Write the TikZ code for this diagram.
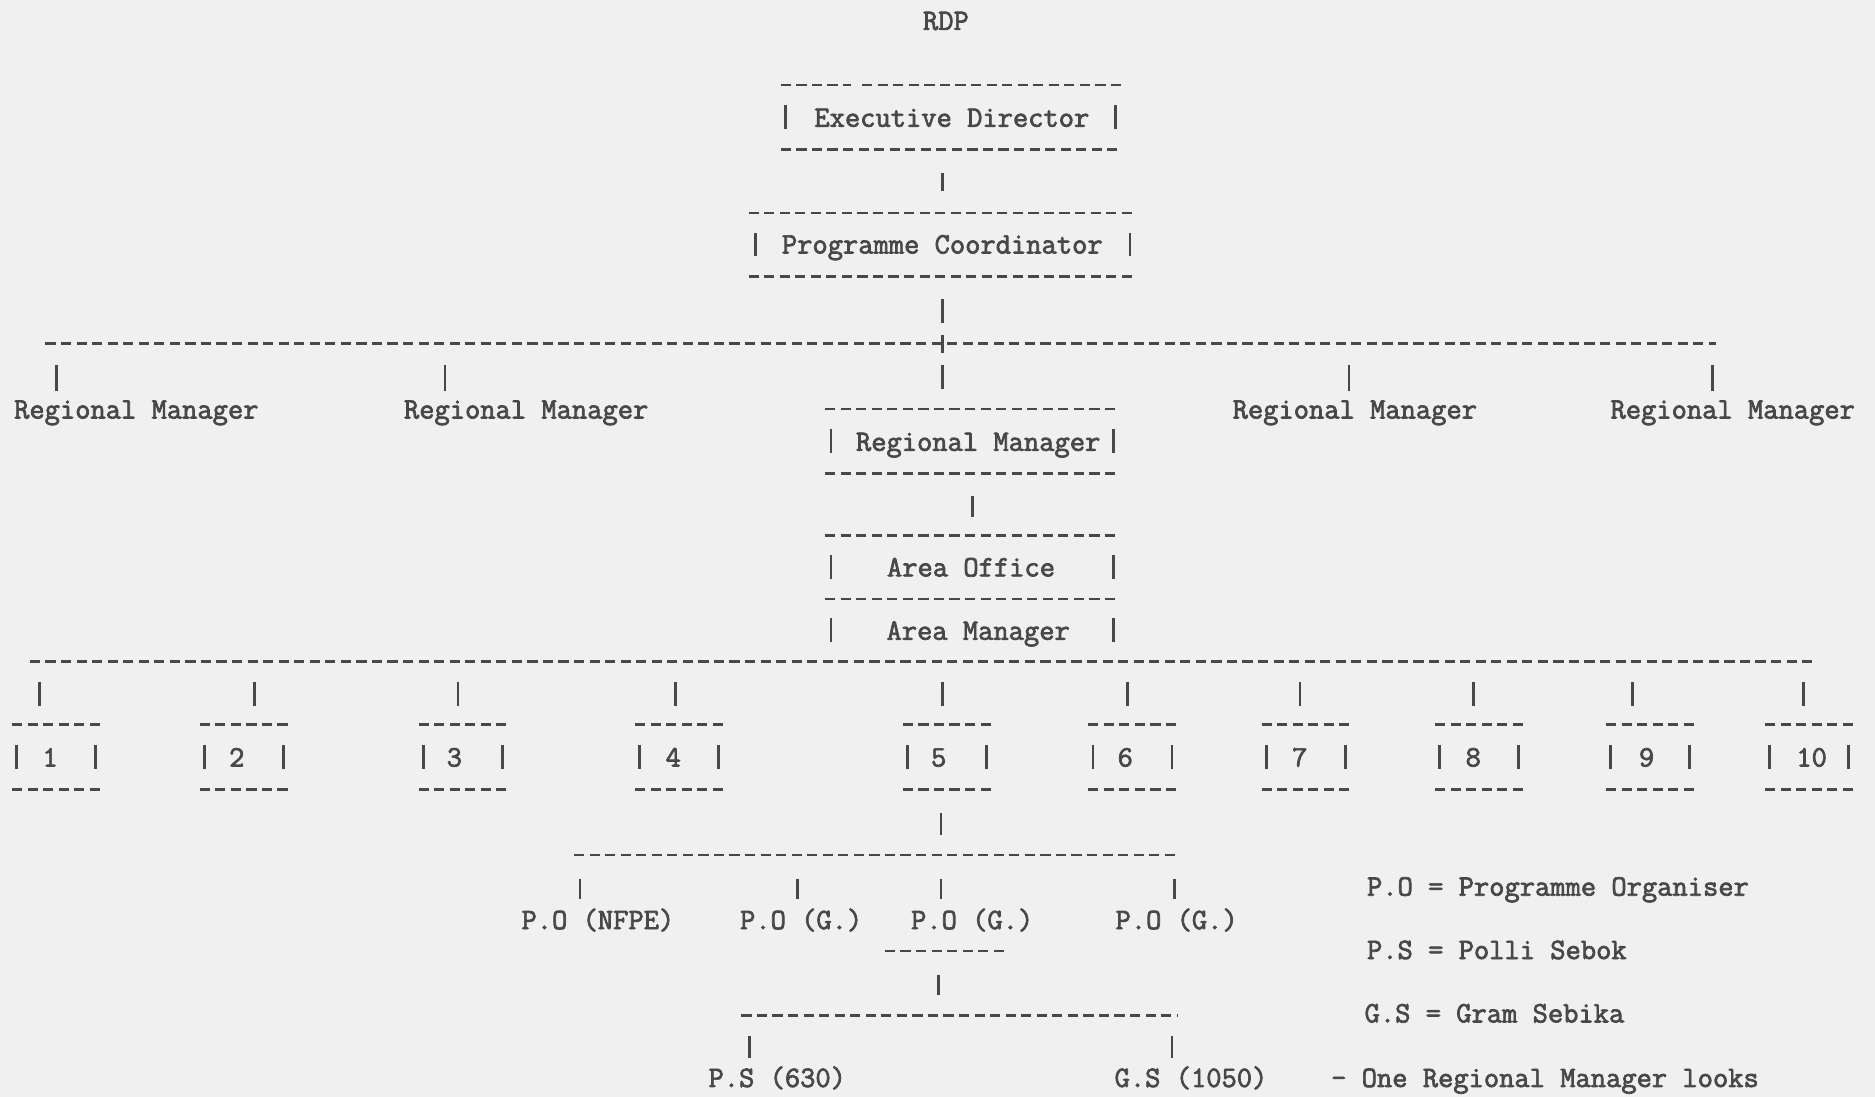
\documentclass[tikz,border=0pt]{standalone}
\usepackage{fontspec}
\newfontfamily\tw{Latin Modern Mono}[FakeBold=2.4]
\usetikzlibrary{calc}
\definecolor{ink}{RGB}{72,72,72}
\definecolor{paper}{RGB}{240,240,240}
\newcommand\boxedges[1]{%
  \draw[dashline] (#1.north west) -- (#1.north east);
  \draw[dashline] (#1.south west) -- (#1.south east);}
\newcommand\boxbars[3]{%
  \draw[bar] ($(#1.west)+(#2,-10)$) -- ++(0,20);
  \draw[bar] ($(#1.east)+(-#3,-10)$) -- ++(0,20);}
\begin{document}
\begin{tikzpicture}[x=1pt,y=-1pt,
  dashline/.style={draw=ink,line width=2.2pt,dash pattern=on 8.5pt off 4.5pt},
  bar/.style={draw=ink,line width=2.2pt},
  lbl/.style={font=\tw\fontsize{24.8}{28}\selectfont,text=ink,inner sep=0pt,
              anchor=base,text height=15pt,text depth=4pt},
  lblw/.style={lbl,anchor=base west},
  frame/.style={inner sep=0pt,outer sep=0pt,draw=none}]
\useasboundingbox (0,0) rectangle (1568,917);
\fill[paper] (0,0) rectangle (1568,917);

% title
\node[lbl] (rdp) at (791,25) {RDP};

% Executive Director
\node[frame,minimum width=285pt,minimum height=54pt] (ed) at (795.5,98) {};
\draw[dashline] (ed.north west) -- ++(59,0);
\draw[dashline] ($(ed.north west)+(68,0)$) -- (ed.north east);
\draw[dashline] (ed.south west) -- (ed.south east);
\boxbars{ed}{4}{5}
\node[lbl] (edt) at (796,106) {Executive Director};

% Programme Coordinator
\node[frame,minimum width=324pt,minimum height=53pt] (pc) at (788,204.5) {};
\boxedges{pc}
\boxbars{pc}{6}{5}
\node[lbl] (pct) at (788,212) {Programme Coordinator};

\draw[bar,shorten <=20pt,shorten >=18pt] (ed.south -| pc.north) -- (pc.north);

% main line
\coordinate (hub) at (788,287);
\coordinate (ml) at (38,287);
\coordinate (mr) at (1435,287);
\draw[dashline] (ml) -- (mr);
\draw[bar,shorten <=19pt,shorten >=17pt] (pc.south) -- (hub);
\draw[bar] ($(hub)+(0,-7)$) -- ($(hub)+(0,8)$);

% outer regional managers
\node[lbl] (rm1) at (114,350) {Regional Manager};
\node[lbl] (rm2) at (440,350) {Regional Manager};
\node[lbl] (rm4) at (1133,350) {Regional Manager};
\node[lbl] (rm5) at (1449,350) {Regional Manager};
\coordinate (t1) at (47,287);
\coordinate (t2) at (372,287);
\coordinate (t4) at (1128,287);
\coordinate (t5) at (1432,287);
\foreach \t/\r in {t1/rm1,t2/rm2,t4/rm4,t5/rm5}
  \draw[bar,shorten <=18pt,shorten >=8pt] (\t) -- (\t |- \r.north);

% central regional manager
\node[frame,minimum width=246pt,minimum height=54pt] (rmc) at (813,369) {};
\boxedges{rmc}
\boxbars{rmc}{5}{5}
\node[lbl] (rmct) at (818,377) {Regional Manager};
\draw[bar,shorten <=18pt,shorten >=17pt] (hub) -- (hub |- rmc.north);

% area office / area manager
\node[frame,minimum width=246pt,minimum height=53pt] (ao) at (813,474.5) {};
\boxedges{ao}
\boxbars{ao}{5}{5}
\node[lbl] (aot) at (812,482) {Area Office};
\node[frame,minimum width=246pt,minimum height=52pt] (am) at (813,527) {};
\boxbars{am}{5}{5}
\node[lbl] (amt) at (818,535) {Area Manager};
\draw[bar,shorten <=19pt,shorten >=16pt] (rmc.south -| ao.north) -- (ao.north);

% big line and area boxes
\draw[dashline] (25,553) -- (1515,553);
\foreach \i/\l/\n/\c in {1/10/42/33,2/167/198/213,3/350/380/383,4/531/563/565,
                        5/755/785/788,6/910/941/943,7/1055/1087/1087,
                        8/1200/1232/1232,9/1343/1377/1365,10/1476/1515/1508}{
  \node[frame,minimum width=75pt,minimum height=54pt] (b\i) at (\l+37.5,633) {};
  \boxedges{b\i}
  \boxbars{b\i}{4}{5}
  \node[lbl] (n\i) at (\n,641) {\i};
  \coordinate (c\i) at (\c,553);
  \draw[bar,shorten <=17pt,shorten >=16pt] (c\i) -- (c\i |- b\i.north);
}

% programme organisers
\coordinate (pm) at (787,715);
\draw[bar,shorten <=20pt,shorten >=17pt] (b5.south -| pm) -- (pm);
\draw[dashline] (480,715) -- (985,715);
\node[lbl] (po1) at (500,777) {P.O (NFPE)};
\node[lbl] (po2) at (670,777) {P.O (G.)};
\node[lbl] (po3) at (813,777) {P.O (G.)};
\node[lbl] (po4) at (984,777) {P.O (G.)};
\coordinate (p1) at (485,715);
\coordinate (p2) at (667,715);
\coordinate (p3) at (787,715);
\coordinate (p4) at (982,715);
\foreach \p/\o in {p1/po1,p2/po2,p3/po3,p4/po4}
  \draw[bar,shorten <=20pt,shorten >=10pt] (\p) -- (\p |- \o.north);
\draw[dashline] ($(po3.south)+(-73,14)$) -- ++(100,0);
\coordinate (uline) at (785,795);
\coordinate (sm) at (785,849);
\draw[bar,shorten <=20pt,shorten >=17pt] (uline) -- (sm);

% polli sebok / gram sebika
\draw[dashline] (620,849) -- (985,849);
\node[lbl] (ps) at (650,909) {P.S (630)};
\node[lbl] (gs) at (996,909) {G.S (1050)};
\coordinate (s1) at (627,849);
\coordinate (s2) at (980,849);
\draw[bar,shorten <=17pt,shorten >=9pt] (s1) -- (s1 |- ps.north);
\draw[bar,shorten <=17pt,shorten >=9pt] (s2) -- (s2 |- gs.north);

% legend
\node[lblw] (k1) at (1143,749) {P.O = Programme Organiser};
\node[lblw] (k2) at (1143,802) {P.S = Polli Sebok};
\node[lblw] (k3) at (1141,855) {G.S = Gram Sebika};
\node[lblw] (k4) at (1113,909) {- One Regional Manager looks};
\end{tikzpicture}
\end{document}
